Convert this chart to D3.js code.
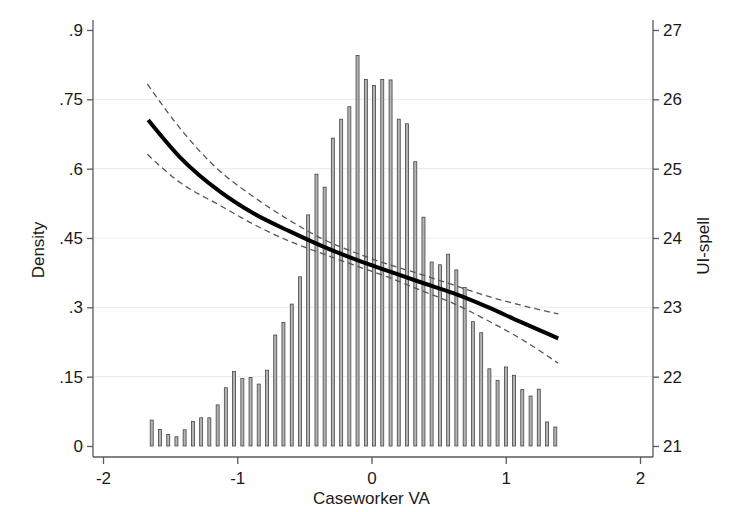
<!DOCTYPE html>
<html>
<head>
<meta charset="utf-8">
<script src="https://cdn.jsdelivr.net/npm/d3@7"></script>
<style>
  html, body { margin: 0; padding: 0; background: #fff; }
  svg { display: block; font-family: "Liberation Sans", Arial, sans-serif; }
</style>
</head>
<body>
<svg id="chart" width="732" height="512"></svg>
<script>
// ---- Data ----
const binCenters = [-1.637, -1.576, -1.514, -1.453, -1.392, -1.330, -1.269, -1.208, -1.146, -1.085,
  -1.024, -0.962, -0.901, -0.840, -0.778, -0.717, -0.656, -0.594, -0.533, -0.472,
  -0.410, -0.349, -0.288, -0.226, -0.165, -0.104, -0.042, 0.019, 0.080, 0.142,
  0.203, 0.264, 0.326, 0.387, 0.448, 0.510, 0.571, 0.632, 0.694, 0.755,
  0.817, 0.878, 0.939, 1.001, 1.062, 1.123, 1.185, 1.246, 1.307, 1.369];
const density = [0.056, 0.036, 0.025, 0.020, 0.035, 0.053, 0.061, 0.061, 0.089, 0.126,
  0.161, 0.146, 0.148, 0.134, 0.164, 0.240, 0.267, 0.307, 0.366, 0.500,
  0.588, 0.560, 0.666, 0.707, 0.734, 0.845, 0.793, 0.780, 0.793, 0.792,
  0.707, 0.697, 0.615, 0.495, 0.398, 0.392, 0.415, 0.381, 0.343, 0.269,
  0.245, 0.167, 0.142, 0.171, 0.153, 0.122, 0.108, 0.123, 0.052, 0.041];

const fitX   = [-1.663, -1.426, -1.128, -0.880, -0.604, -0.359, -0.110, 0.138, 0.361, 0.609, 0.858, 1.106, 1.391];
const fitY   = [25.702, 25.164, 24.668, 24.356, 24.091, 23.875, 23.683, 23.514, 23.365, 23.203, 23.009, 22.793, 22.553];
const upperX = [-1.670, -1.426, -1.153, -0.880, -0.607, -0.359, -0.110, 0.138, 0.361, 0.609, 0.858, 1.106, 1.391];
const upperY = [26.221, 25.582, 25.005, 24.596, 24.250, 23.981, 23.780, 23.611, 23.480, 23.322, 23.164, 23.034, 22.904];
const lowerX = [-1.670, -1.426, -1.128, -0.880, -0.607, -0.359, -0.110, 0.138, 0.361, 0.609, 0.858, 1.106, 1.391];
const lowerY = [25.207, 24.800, 24.470, 24.200, 23.950, 23.770, 23.595, 23.425, 23.250, 23.058, 22.817, 22.553, 22.193];

const xTicks = [-2, -1, 0, 1, 2];
const xTickLabels = ["-2", "-1", "0", "1", "2"];
const yLeftTicks = [0, 0.15, 0.3, 0.45, 0.6, 0.75, 0.9];
const yLeftLabels = ["0", ".15", ".3", ".45", ".6", ".75", ".9"];
const yRightTicks = [21, 22, 23, 24, 25, 26, 27];
const yRightLabels = ["21", "22", "23", "24", "25", "26", "27"];
const gridTicks = [0.15, 0.3, 0.45, 0.6, 0.75];

// ---- Layout ----
const L = 93, R = 653, T = 20, B = 457;
const svg = d3.select("#chart");

const x = d3.scaleLinear().domain([-2.0745, 2.0968]).range([L, R]);
const yL = d3.scaleLinear().domain([-0.0238, 0.9216]).range([B, T]);
const yR = d3.scaleLinear().domain([20.841, 27.144]).range([B, T]);

const axisColor = "#5a5a5a";
const textColor = "#1a1a1a";

// gridlines
svg.append("g").selectAll("line").data(gridTicks).join("line")
  .attr("x1", L).attr("x2", R)
  .attr("y1", d => yL(d)).attr("y2", d => yL(d))
  .attr("stroke", "#e4edf0").attr("stroke-width", 1);

// histogram bars
const barW = 3.0;
svg.append("g").selectAll("rect").data(binCenters).join("rect")
  .attr("x", (d) => x(d) - barW / 2)
  .attr("y", (d, i) => yL(density[i]))
  .attr("width", barW)
  .attr("height", (d, i) => yL(0) - yL(density[i]))
  .attr("fill", "#b4b4b4")
  .attr("stroke", "#444")
  .attr("stroke-width", 0.8);

// lines
const lineGen = (xs, ys) => d3.line()
  .x((d, i) => x(xs[i])).y((d, i) => yR(ys[i]))
  .curve(d3.curveMonotoneX)(xs);

svg.append("path").attr("d", lineGen(upperX, upperY))
  .attr("fill", "none").attr("stroke", "#555").attr("stroke-width", 1.3)
  .attr("stroke-dasharray", "6,4");
svg.append("path").attr("d", lineGen(lowerX, lowerY))
  .attr("fill", "none").attr("stroke", "#555").attr("stroke-width", 1.3)
  .attr("stroke-dasharray", "6,4");
svg.append("path").attr("d", lineGen(fitX, fitY))
  .attr("fill", "none").attr("stroke", "#000").attr("stroke-width", 4)
  .attr("stroke-linecap", "butt");

// axes
const fontSize = 17;
const xAxis = d3.axisBottom(x).tickValues(xTicks).tickSize(7).tickPadding(8)
  .tickFormat((d, i) => xTickLabels[i]);
const gx = svg.append("g").attr("transform", `translate(0,${B})`).call(xAxis);
const yAxisL = d3.axisLeft(yL).tickValues(yLeftTicks).tickSize(6).tickPadding(4)
  .tickFormat((d, i) => yLeftLabels[i]);
const gyl = svg.append("g").attr("transform", `translate(${L},0)`).call(yAxisL);
const yAxisR = d3.axisRight(yR).tickValues(yRightTicks).tickSize(6).tickPadding(4)
  .tickFormat((d, i) => yRightLabels[i]);
const gyr = svg.append("g").attr("transform", `translate(${R},0)`).call(yAxisR);

[gx, gyl, gyr].forEach(g => {
  g.select(".domain").attr("stroke", axisColor).attr("stroke-width", 1.3);
  g.selectAll(".tick line").attr("stroke", axisColor).attr("stroke-width", 1.3);
  g.selectAll(".tick text").attr("fill", textColor)
    .style("font-size", fontSize + "px")
    .style("font-family", "'Liberation Sans', Arial, sans-serif");
});
gx.select(".domain").attr("d", `M${L},0H${R}`);
gyl.select(".domain").attr("d", `M0,${B}V${T}`);
gyr.select(".domain").attr("d", `M0,${B}V${T}`);

// axis titles
svg.append("text").attr("x", (x(-2) + x(2)) / 2).attr("y", 504)
  .attr("text-anchor", "middle").attr("fill", textColor)
  .style("font-size", fontSize + "px").text("Caseworker VA");
svg.append("text").attr("transform", `translate(44,250) rotate(-90)`)
  .attr("text-anchor", "middle").attr("fill", textColor)
  .style("font-size", fontSize + "px").text("Density");
svg.append("text").attr("transform", `translate(709,246) rotate(-90)`)
  .attr("text-anchor", "middle").attr("fill", textColor)
  .style("font-size", fontSize + "px").text("UI-spell");
</script>
</body>
</html>
